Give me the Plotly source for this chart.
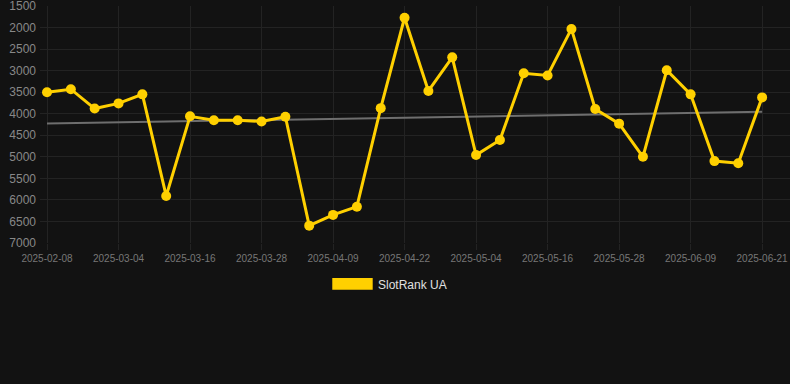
import numpy as np
import plotly.graph_objects as go

dates = [
    "2025-02-08", "2025-02-16", "2025-02-24",
    "2025-03-04", "2025-03-08", "2025-03-12",
    "2025-03-16", "2025-03-20", "2025-03-24",
    "2025-03-28", "2025-04-01", "2025-04-05",
    "2025-04-09", "2025-04-13", "2025-04-17",
    "2025-04-22", "2025-04-26", "2025-04-30",
    "2025-05-04", "2025-05-08", "2025-05-12",
    "2025-05-16", "2025-05-20", "2025-05-24",
    "2025-05-28", "2025-06-01", "2025-06-05",
    "2025-06-09", "2025-06-13", "2025-06-17",
    "2025-06-21",
]
rank = [
    3500, 3430, 3880, 3760, 3550, 5910, 4060, 4150, 4150, 4180,
    4070, 6600, 6350, 6160, 3870, 1770, 3470, 2690, 4960, 4610,
    3060, 3110, 2030, 3890, 4230, 5000, 2990, 3550, 5100, 5150,
    3620,
]
tick_labels = dates[::3]
y_ticks = [1500, 2000, 2500, 3000, 3500, 4000, 4500, 5000, 5500, 6000, 6500, 7000]
series_name = "SlotRank UA"

idx = np.arange(len(rank))
slope, intercept = np.polyfit(idx, rank, 1)
trend = slope * idx + intercept

fig = go.Figure()
fig.add_trace(go.Scatter(
    x=dates, y=trend, mode="lines",
    line=dict(color="#6e6e6e", width=2),
    hoverinfo="skip", showlegend=False,
))
fig.add_trace(go.Scatter(
    x=dates, y=rank, mode="lines+markers", name=series_name,
    line=dict(color="#FFD000", width=3),
    marker=dict(color="#FFD000", size=10),
    showlegend=False,
))

fig.update_layout(
    width=790, height=384,
    margin=dict(l=40, r=0, t=6, b=141),
    paper_bgcolor="#121212", plot_bgcolor="#121212",
    font=dict(family="Liberation Sans, Arial, sans-serif"),
    xaxis=dict(
        type="category", categoryorder="array", categoryarray=dates,
        range=[-0.294, 31.17],
        tickvals=tick_labels, ticktext=tick_labels,
        tickfont=dict(size=10, color="#777777"),
        showgrid=True, gridcolor="#232323", gridwidth=1,
        ticks="outside", ticklen=6, tickcolor="#232323",
        zeroline=False, showline=False, ticklabeloverflow="allow",
    ),
    yaxis=dict(
        range=[7003, 1497],
        tickvals=y_ticks,
        tickfont=dict(size=12, color="#888888"),
        showgrid=True, gridcolor="#232323", gridwidth=1,
        zeroline=False, showline=False, ticklen=0, ticklabelstandoff=3,
        ticklabeloverflow="allow",
    ),
    shapes=[dict(
        type="rect", xref="paper", yref="paper",
        x0=0.3897, x1=0.4436, y0=-0.1477, y1=-0.197,
        fillcolor="#FFD000", line=dict(width=0),
    )],
    annotations=[dict(
        text=series_name, xref="paper", yref="paper",
        x=0.4475, y=-0.176, xanchor="left", yanchor="middle",
        showarrow=False, font=dict(size=12, color="#e0e0e0"),
    )],
)

fig.write_html(
    "out.html",
    config={"displayModeBar": False},
    post_script="document.body.style.margin='0';document.body.style.background='#121212';",
)
